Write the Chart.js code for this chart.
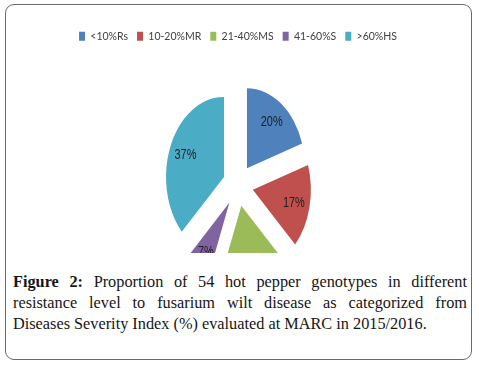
<!DOCTYPE html>
<html><head><meta charset="utf-8">
<script src="https://cdn.jsdelivr.net/npm/chart.js@4"></script>
<style>
html,body{margin:0;padding:0;background:#fff;}
body{width:479px;height:365px;position:relative;overflow:hidden;}
#frame{position:absolute;left:5px;top:4px;width:465px;height:354px;border:1.5px solid #6b6b6b;border-radius:9px;}
#clip{position:absolute;left:0;top:0;width:479px;height:253px;overflow:hidden;}
#holder{position:absolute;left:0;top:0;width:479px;height:319px;}
#caption{position:absolute;left:13px;top:272px;width:454px;font-family:"Liberation Serif","DejaVu Serif",serif;font-size:16.3px;line-height:20.8px;color:#161616;}
.ln{display:block;text-align:justify;text-align-last:justify;}
.last{text-align:left;text-align-last:left;}
</style>
</head><body>
<div id="frame"></div>
<div id="clip"><div id="holder"><canvas id="c"></canvas></div></div>
<div id="caption">
<span class="ln"><b>Figure 2:</b> Proportion of 54 hot pepper genotypes in different</span>
<span class="ln">resistance level to fusarium wilt disease as categorized from</span>
<span class="ln last">Diseases Severity Index (%) evaluated at MARC in 2015/2016.</span>
</div>
<script>
const categories = ['<10%Rs', '10-20%MR', '21-40%MS', '41-60%S', '>60%HS'];
const shares = [20, 17, 19, 7, 37];
const sliceColors = ['#4F81BD', '#C0504D', '#9BBB59', '#8064A2', '#4BACC6'];

const ellipsePie = {
  id: 'ellipsePie',
  beforeDatasetsDraw(chart) {
    const ctx = chart.ctx;
    const meta = chart.getDatasetMeta(0);
    const sx = 0.725, explode = 21, labelDist = 58;
    meta.data.forEach((arc) => {
      const p = arc.getProps(['x', 'y', 'startAngle', 'endAngle', 'outerRadius'], true);
      const mid = (p.startAngle + p.endAngle) / 2;
      ctx.save();
      ctx.translate(p.x, p.y);
      ctx.scale(sx, 1);
      ctx.translate(Math.cos(mid) * explode, Math.sin(mid) * explode);
      ctx.beginPath();
      ctx.moveTo(0, 0);
      ctx.arc(0, 0, p.outerRadius, p.startAngle, p.endAngle);
      ctx.closePath();
      ctx.fillStyle = arc.options.backgroundColor;
      ctx.fill();
      ctx.restore();
    });
    meta.data.forEach((arc, i) => {
      const p = arc.getProps(['x', 'y', 'startAngle', 'endAngle', 'outerRadius'], true);
      const mid = (p.startAngle + p.endAngle) / 2;
      const r = explode + labelDist;
      ctx.save();
      ctx.translate(p.x + Math.cos(mid) * r * sx, p.y + Math.sin(mid) * r);
      ctx.scale(0.78, 1);
      ctx.font = '14px "Liberation Sans", Arial, sans-serif';
      ctx.fillStyle = '#1e1e1e';
      ctx.textAlign = 'center';
      ctx.textBaseline = 'alphabetic';
      ctx.fillText(shares[i] + '%', 0, 5);
      ctx.restore();
    });
    return false;
  }
};

new Chart(document.getElementById('c'), {
  type: 'pie',
  data: {
    labels: categories,
    datasets: [{ data: shares, backgroundColor: sliceColors, borderWidth: 0, radius: 80 }]
  },
  options: {
    responsive: true,
    maintainAspectRatio: false,
    animation: false,
    layout: { padding: { top: 22, right: 3, left: 0, bottom: 0 } },
    plugins: {
      tooltip: { enabled: false },
      legend: {
        position: 'top',
        labels: { boxWidth: 6, boxHeight: 9, padding: 9, color: '#404040', font: { family: 'Lato, "Open Sans", sans-serif', size: 10.5 } }
      }
    }
  },
  plugins: [ellipsePie]
});
</script>
</body></html>
